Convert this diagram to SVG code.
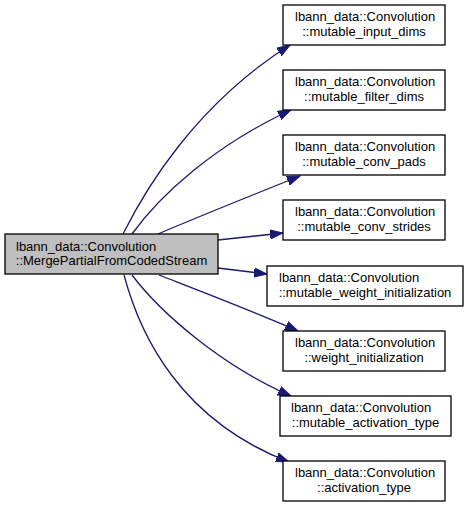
<svg xmlns="http://www.w3.org/2000/svg" width="469" height="508" viewBox="0 0 469 508">
<style>
  .node rect { fill: #ffffff; stroke: #000000; stroke-width: 1.3; }
  .node.main rect { fill: #bfbfbf; }
  text { font-family: "Liberation Sans", Arial, sans-serif; font-size: 13px; fill: #000000; }
  .l1 { text-anchor: start; }
  .l2 { text-anchor: middle; }
  .edge { fill: none; stroke: #191970; stroke-width: 1.3; marker-end: url(#arrow); }
</style>
<defs>
  <marker id="arrow" markerUnits="userSpaceOnUse" markerWidth="14" markerHeight="10" refX="13" refY="5" orient="auto" viewBox="0 0 14 10">
    <path d="M0,0.4 L13,5 L0,9.6 z" fill="#191970" stroke="#191970" stroke-width="1"/>
  </marker>
</defs>
<rect width="469" height="508" fill="#ffffff"/>
<g id="edges">
  <path class="edge" d="M123,234 C145,190 195,105 290,45"/>
  <path class="edge" d="M132,234 C160,195 215,145 291,110"/>
  <path class="edge" d="M158,234 C200,216 250,196 300,176"/>
  <path class="edge" d="M218,240 C238,238 260,235.5 283,233"/>
  <path class="edge" d="M218,268 C235,270 250,272 267,274"/>
  <path class="edge" d="M159,275 C200,291 255,312 298,331"/>
  <path class="edge" d="M132,275 C160,312 220,365 291,396"/>
  <path class="edge" d="M124,275 C140,335 180,420 289,462"/>
</g>
<g id="node-main" class="node main">
  <rect x="5" y="234" width="213" height="40"/>
  <text class="l1" x="16" y="251">lbann_data::Convolution</text>
  <text class="l2" x="111.5" y="265">::MergePartialFromCodedStream</text>
</g>
<g id="node-mutable_input_dims" class="node">
  <rect x="283" y="5" width="162" height="40"/>
  <text class="l1" x="295" y="21">lbann_data::Convolution</text>
  <text class="l2" x="364" y="35.5">::mutable_input_dims</text>
</g>
<g id="node-mutable_filter_dims" class="node">
  <rect x="283" y="70" width="162" height="40"/>
  <text class="l1" x="295" y="86">lbann_data::Convolution</text>
  <text class="l2" x="364" y="100.5">::mutable_filter_dims</text>
</g>
<g id="node-mutable_conv_pads" class="node">
  <rect x="283" y="135" width="162" height="40"/>
  <text class="l1" x="295" y="151">lbann_data::Convolution</text>
  <text class="l2" x="364" y="165.5">::mutable_conv_pads</text>
</g>
<g id="node-mutable_conv_strides" class="node">
  <rect x="283" y="200" width="162" height="40"/>
  <text class="l1" x="295" y="216">lbann_data::Convolution</text>
  <text class="l2" x="364" y="230.5">::mutable_conv_strides</text>
</g>
<g id="node-mutable_weight_initialization" class="node">
  <rect x="267" y="266" width="196" height="40"/>
  <text class="l1" x="279" y="282">lbann_data::Convolution</text>
  <text class="l2" x="365" y="296.5">::mutable_weight_initialization</text>
</g>
<g id="node-weight_initialization" class="node">
  <rect x="283" y="331" width="162" height="40"/>
  <text class="l1" x="295" y="347">lbann_data::Convolution</text>
  <text class="l2" x="364" y="361.5">::weight_initialization</text>
</g>
<g id="node-mutable_activation_type" class="node">
  <rect x="280" y="396" width="171" height="40"/>
  <text class="l1" x="291" y="412">lbann_data::Convolution</text>
  <text class="l2" x="365.5" y="426.5">::mutable_activation_type</text>
</g>
<g id="node-activation_type" class="node">
  <rect x="283" y="461" width="162" height="40"/>
  <text class="l1" x="295" y="477">lbann_data::Convolution</text>
  <text class="l2" x="364" y="491.5">::activation_type</text>
</g>
</svg>
